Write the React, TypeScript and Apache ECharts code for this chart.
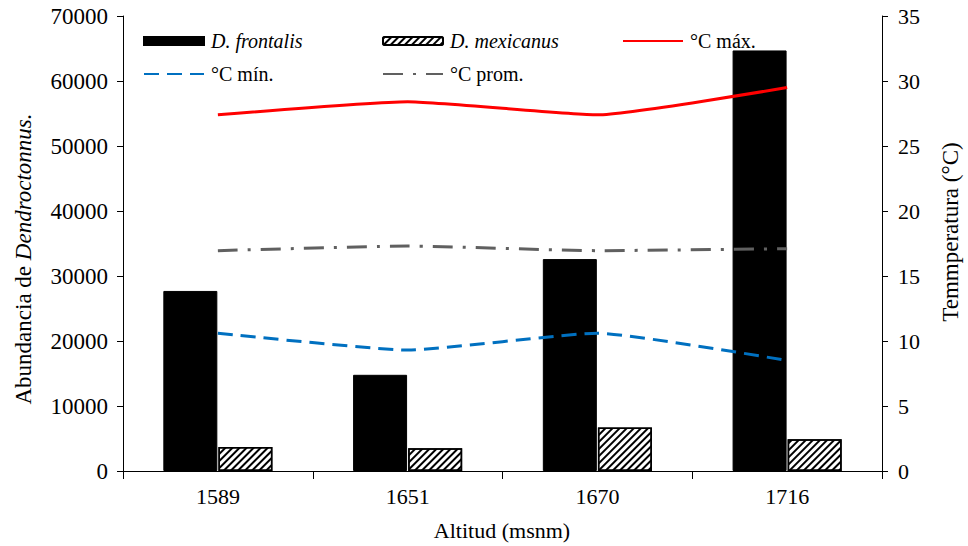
import React, { useEffect, useRef } from "react";
import * as echarts from "echarts";

const categories = ["1589", "1651", "1670", "1716"];
const frontalis = [27700, 14800, 32600, 64700];
const mexicanus = [3700, 3500, 6700, 4900];
const tMax = [27.4, 28.4, 27.4, 29.5];
const tMin = [10.6, 9.3, 10.6, 8.5];
const tProm = [16.95, 17.3, 16.95, 17.1];
const leftTicks = { min: 0, max: 70000, interval: 10000 };
const rightTicks = { min: 0, max: 35, interval: 5 };

const FONT = "'Times New Roman', 'Liberation Serif', serif";

export default function App() {
  const ref = useRef<HTMLDivElement>(null);
  useEffect(() => {
    document.body.style.margin = "0";
    if (!ref.current) return;
    const chart = echarts.init(ref.current, null, { renderer: "svg" });
    const legendText = { fontFamily: FONT, fontSize: 20, color: "#000" };
    const mkLegend = (name: string, left: number, top: number, italic: boolean, extra: any) => ({
      data: [name],
      left,
      top,
      padding: 0,
      itemWidth: 60,
      itemHeight: 8,
      itemGap: 0,
      ...extra,
      textStyle: { ...legendText, fontStyle: italic ? "italic" : "normal", padding: [0, 0, 0, 2] },
    });
    const lineLegend = { itemStyle: { opacity: 0 } };
    chart.setOption({
      animation: false,
      backgroundColor: "#fff",
      grid: { left: 123, right: 86, top: 16, bottom: 75, containLabel: false },
      legend: [
        mkLegend("D. frontalis", 143, 31, true, { icon: "rect" }),
        mkLegend("D. mexicanus", 382, 31, true, {}),
        mkLegend("°C máx.", 622, 31, false, lineLegend),
        mkLegend("°C mín.", 143, 64, false, lineLegend),
        mkLegend("°C prom.", 382, 64, false, lineLegend),
      ],
      xAxis: {
        type: "category",
        data: categories,
        boundaryGap: true,
        axisLine: { lineStyle: { color: "#000", width: 1 } },
        axisTick: { show: true, interval: 0, length: 8, alignWithLabel: false, lineStyle: { color: "#000" } },
        axisLabel: { fontFamily: FONT, fontSize: 22, color: "#000", margin: 14 },
        splitLine: { show: false },
      },
      yAxis: [
        {
          type: "value",
          ...leftTicks,
          position: "left",
          axisLine: { show: true, lineStyle: { color: "#000", width: 1 } },
          axisTick: { show: true, length: 6, lineStyle: { color: "#000" } },
          axisLabel: {
            fontFamily: FONT,
            fontSize: 23,
            color: "#000",
            margin: 15,
            formatter: (v: number) => String(v),
          },
          splitLine: { show: false },
        },
        {
          type: "value",
          ...rightTicks,
          position: "right",
          axisLine: { show: true, lineStyle: { color: "#000", width: 1 } },
          axisTick: { show: true, length: 6, lineStyle: { color: "#000" } },
          axisLabel: { fontFamily: FONT, fontSize: 22, color: "#000", margin: 16 },
          splitLine: { show: false },
        },
      ],
      series: [
        {
          name: "D. frontalis",
          type: "bar",
          data: frontalis,
          barWidth: 54,
          barGap: "2%",
          itemStyle: { color: "#000", borderColor: "#000", borderWidth: 1 },
        },
        {
          name: "D. mexicanus",
          type: "bar",
          data: mexicanus,
          barWidth: 54,
          itemStyle: {
            color: "#fff",
            borderColor: "#000",
            borderWidth: 1.5,
            decal: {
              symbol: "rect",
              symbolSize: 1,
              color: "#000",
              backgroundColor: "#fff",
              dashArrayX: [1, 0],
              dashArrayY: [1.3, 2.8],
              rotation: -Math.PI / 4,
            },
          },
        },
        {
          name: "°C máx.",
          type: "line",
          yAxisIndex: 1,
          data: tMax,
          symbol: "none",
          smooth: 0.15,
          lineStyle: { color: "#ff0000", width: 3 },
          itemStyle: { color: "#ff0000" },
        },
        {
          name: "°C mín.",
          type: "line",
          yAxisIndex: 1,
          data: tMin,
          symbol: "none",
          smooth: 0.15,
          lineStyle: { color: "#0070c0", width: 3, type: [15, 8] },
          itemStyle: { color: "#0070c0" },
        },
        {
          name: "°C prom.",
          type: "line",
          yAxisIndex: 1,
          data: tProm,
          symbol: "none",
          smooth: 0.15,
          lineStyle: { color: "#606060", width: 3, type: [20, 10, 3, 10] },
          itemStyle: { color: "#606060" },
        },
      ],
      graphic: [
        {
          type: "text",
          x: 23,
          y: 259,
          rotation: Math.PI / 2,
          style: {
            text: "{a|Abundancia de }{b|Dendroctonnus.}",
            align: "center",
            verticalAlign: "middle",
            rich: {
              a: { fontFamily: FONT, fontSize: 23, fill: "#000" },
              b: { fontFamily: FONT, fontSize: 23, fontStyle: "italic", fill: "#000" },
            },
          },
        },
        {
          type: "text",
          x: 950,
          y: 232,
          rotation: Math.PI / 2,
          style: {
            text: "Temmperatura (°C)",
            align: "center",
            verticalAlign: "middle",
            fontFamily: FONT,
            fontSize: 23,
            fill: "#000",
          },
        },
        {
          type: "text",
          x: 502,
          y: 530,
          style: {
            text: "Altitud (msnm)",
            align: "center",
            verticalAlign: "middle",
            fontFamily: FONT,
            fontSize: 22,
            fill: "#000",
          },
        },
      ],
    });
    return () => chart.dispose();
  }, []);
  return <div ref={ref} style={{ width: 968, height: 546 }} />;
}
